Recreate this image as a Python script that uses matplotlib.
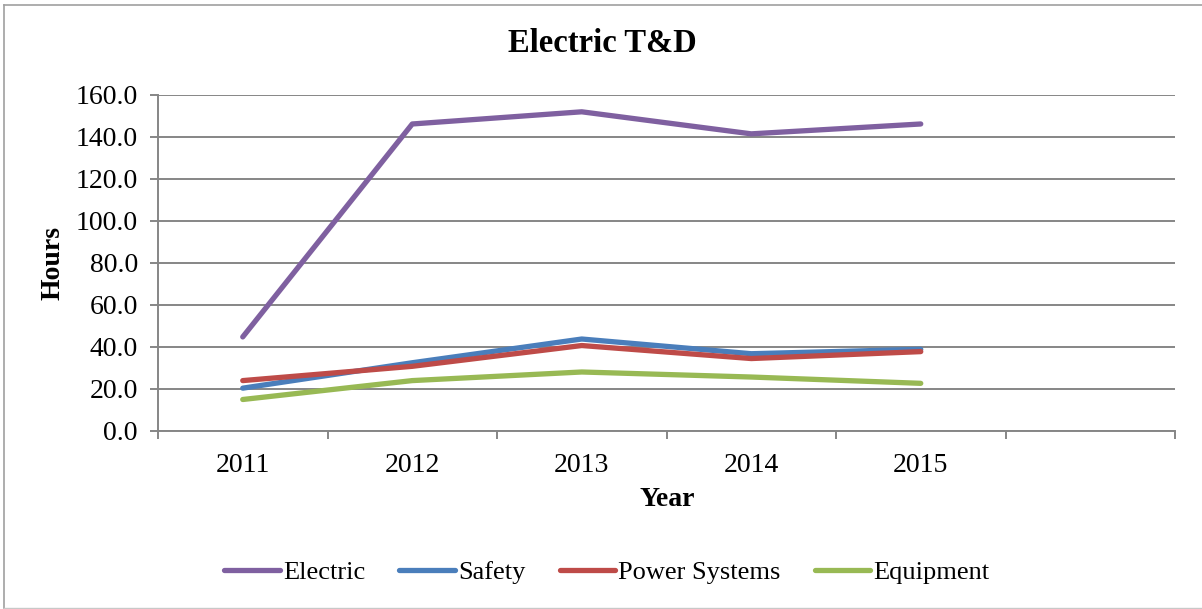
import matplotlib
matplotlib.use("Agg")
import matplotlib.pyplot as plt
from matplotlib.lines import Line2D

# Training hours per year, Electric T&D
years = ["2011", "2012", "2013", "2014", "2015"]
electric = [44.8, 146.2, 152.0, 141.5, 146.2]
safety = [20.4, 32.5, 43.8, 36.8, 38.9]
power_systems = [24.0, 30.8, 40.7, 34.5, 37.8]
equipment = [15.0, 24.0, 28.1, 25.7, 22.7]

series_names = ["Electric", "Safety", "Power Systems", "Equipment"]
series_values = [electric, safety, power_systems, equipment]
series_colors = ["#7F60A0", "#4A7EBB", "#BE4B48", "#98B954"]

y_ticks = [0, 20, 40, 60, 80, 100, 120, 140, 160]
n_slots = 6  # category slots on the axis (last one empty)

plt.rcParams["font.family"] = ["Liberation Serif", "DejaVu Serif"]

W, H = 1202, 609
fig = plt.figure(figsize=(W / 100, H / 100), dpi=100)

# chart frame
grey = "#A0A0A0"
fig.add_artist(Line2D([4 / W, 1.0], [1 - 5 / H, 1 - 5 / H], transform=fig.transFigure, color=grey, lw=1.2))
fig.add_artist(Line2D([4 / W, 4 / W], [1 - 5 / H, 1 - 607.5 / H], transform=fig.transFigure, color=grey, lw=1.2))
fig.add_artist(Line2D([4 / W, 1.0], [1 - 607.5 / H, 1 - 607.5 / H], transform=fig.transFigure, color="#C8C8C8", lw=1.0))

left, right, top, bottom = 158, 1175, 95, 431
ax = fig.add_axes([left / W, 1 - bottom / H, (right - left) / W, (bottom - top) / H])

x = list(range(len(years)))
for name, vals, col in zip(series_names, series_values, series_colors):
    ax.plot(x, vals, color=col, lw=3.8, solid_capstyle="round", solid_joinstyle="round", label=name, zorder=3)

ax.set_xlim(-0.5, n_slots - 0.5)
ax.set_ylim(0, 160)

# y axis
ax.set_yticks(y_ticks)
ax.set_yticklabels([f"{v:.1f}" for v in y_ticks], fontsize=20)
ax.yaxis.grid(True, color="#868686", lw=1.4)
ax.set_axisbelow(True)

# x axis: tick marks between categories, labels at category centres
ax.set_xticks([i - 0.5 for i in range(n_slots + 1)])
ax.set_xticklabels([])
ax.set_xticks(x, minor=True)
ax.set_xticklabels(years, minor=True, fontsize=20)
ax.tick_params(axis="x", which="minor", length=0, pad=16)
ax.tick_params(axis="x", which="major", length=5.5, width=1.4, color="#868686")
ax.tick_params(axis="y", length=5.5, width=1.4, color="#868686", pad=9)

for s in ["top", "right"]:
    ax.spines[s].set_visible(False)
for s in ["left", "bottom"]:
    ax.spines[s].set_color("#868686")
    ax.spines[s].set_linewidth(1.4)

# axis titles and chart title
fig.text(53 / W, 1 - 263 / H, "Hours", rotation=90, ha="center", va="center", fontsize=20, fontweight="bold")
fig.text(667 / W, 1 - 500 / H, "Year", ha="center", va="center", fontsize=20, fontweight="bold")
fig.text(602 / W, 1 - 44 / H, "Electric T&D", ha="center", va="center", fontsize=23.5, fontweight="bold")

leg = fig.legend(loc="center", bbox_to_anchor=(607 / W, 1 - 572 / H), ncol=4, frameon=False,
                 fontsize=19, handlelength=2.1, handletextpad=0.12, columnspacing=1.3)
for h in leg.get_lines():
    h.set_linewidth(3.8)
    h.set_solid_capstyle("round")

fig.savefig("out.png", dpi=100)
